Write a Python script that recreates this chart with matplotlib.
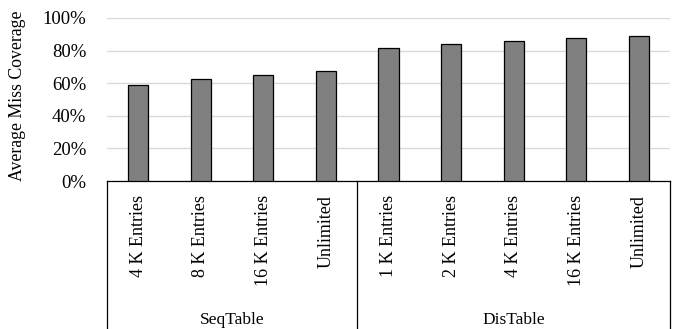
import matplotlib
matplotlib.use('Agg')
import matplotlib.pyplot as plt
import matplotlib.transforms as mtransforms
from matplotlib.ticker import PercentFormatter

plt.rcParams['font.family'] = 'Liberation Serif'

groups = ['SeqTable', 'DisTable']
seq_labels = ['4 K Entries', '8 K Entries', '16 K Entries', 'Unlimited']
dis_labels = ['1 K Entries', '2 K Entries', '4 K Entries', '16 K Entries', 'Unlimited']
seq_values = [58.7, 62.4, 65.0, 67.3]
dis_values = [81.8, 84.2, 86.1, 87.7, 89.0]

labels = seq_labels + dis_labels
values = seq_values + dis_values
x = list(range(len(labels)))

fig = plt.figure(figsize=(6.8, 3.29), dpi=100)
ax = fig.add_axes([107 / 680, 1 - 181 / 329, (670 - 107) / 680, (181 - 18) / 329])

ax.bar(x, values, width=0.32, color='#808080', edgecolor='black', linewidth=0.9, zorder=3)
ax.set_xlim(-0.5, len(labels) - 0.5)
ax.set_ylim(0, 100)
ax.set_yticks(range(0, 101, 20))
ax.yaxis.set_major_formatter(PercentFormatter(decimals=0))
ax.grid(axis='y', color='#d9d9d9', linewidth=1, zorder=0)
for s in ['top', 'right', 'left']:
    ax.spines[s].set_visible(False)
ax.spines['bottom'].set_color('black')
ax.spines['bottom'].set_linewidth(0.9)
ax.tick_params(axis='y', length=0, labelsize=13.5, pad=15)
ax.tick_params(axis='x', length=0, labelbottom=False)
fig.text(18 / 680, 1 - 96 / 329, 'Average Miss Coverage', rotation=90,
         ha='center', va='center', fontsize=12.8)

# category + group axis below the plot
trans = mtransforms.blended_transform_factory(ax.transData, ax.transAxes)
bottom = -(329 - 181) / 163
edges = [-0.5, len(seq_labels) - 0.5, len(labels) - 0.5]
for e in edges:
    ax.plot([e, e], [0, bottom], transform=trans, color='black', linewidth=0.9, clip_on=False)
for xi, lab in zip(x, labels):
    ax.text(xi, -0.085, lab, transform=trans, rotation=90, ha='center', va='top', fontsize=13)
for i, g in enumerate(groups):
    ax.text((edges[i] + edges[i + 1]) / 2, -0.855, g, transform=trans, ha='center', va='center', fontsize=12.5)

fig.savefig('out.png', dpi=100)
